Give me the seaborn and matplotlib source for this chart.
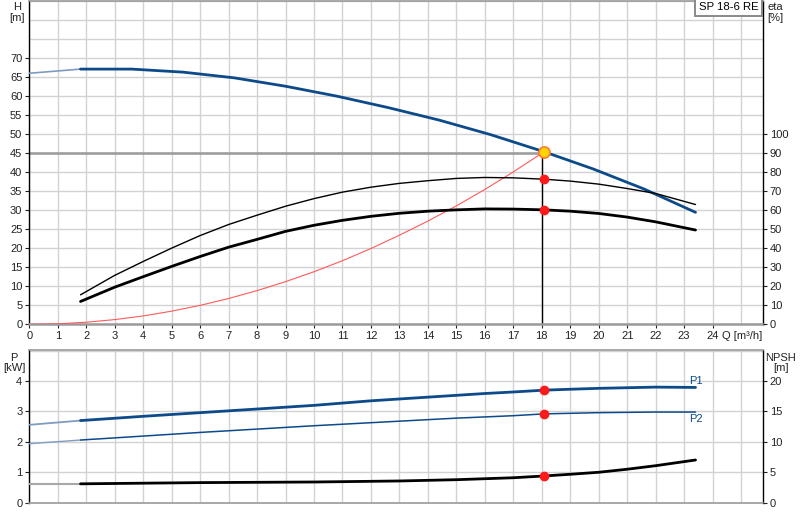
import matplotlib
matplotlib.use("Agg")
import matplotlib.pyplot as plt
import seaborn as sns
import numpy as np
from matplotlib.ticker import FixedLocator, NullFormatter

sns.set_theme(style="white")
plt.rcParams['font.family'] = ['Liberation Sans', 'DejaVu Sans']

# ---------------- data ----------------
# pump head curve H [m]
q_head = [1.8, 3.6, 5.4, 7.2, 9.0, 10.8, 12.6, 14.4, 16.2, 18.08, 19.8, 21.6, 23.4]
h_head = [67.0, 67.0, 66.2, 64.7, 62.5, 59.9, 56.9, 53.6, 49.8, 45.3, 40.8, 35.5, 29.4]
q_head_ext = [0.0, 1.8]
h_head_ext = [65.9, 67.0]

# system curve (red)
q_sys = [0, 1, 2, 3, 4, 5, 6, 7, 8, 9, 10, 11, 12, 13, 14, 15, 16, 17, 18.08]
h_sys = [0, 0.14, 0.55, 1.24, 2.2, 3.45, 4.97, 6.77, 8.85, 11.2, 13.8, 16.7,
         19.9, 23.4, 27.1, 31.1, 35.4, 40.0, 45.3]

# efficiency curves eta [%]
q_eta = [1.8, 3, 4, 5, 6, 7, 8, 9, 10, 11, 12, 13, 14, 15, 16, 17, 18.08,
         19, 20, 21, 22, 23.4]
eta_pump = [15.5, 25.7, 33.0, 40.0, 46.6, 52.4, 57.3, 62.0, 66.0, 69.4, 72.0,
            74.0, 75.4, 76.6, 77.1, 76.9, 76.2, 75.2, 73.6, 71.3, 68.7, 62.9]
eta_total = [12.0, 19.5, 25.0, 30.4, 35.6, 40.5, 44.6, 48.8, 52.0, 54.6, 56.7,
             58.3, 59.4, 60.1, 60.6, 60.5, 60.1, 59.4, 58.2, 56.3, 53.8, 49.5]

# power curves P [kW]
q_p1 = [1.8, 4, 6, 8, 10, 12, 13, 14, 15, 16, 17, 18.08, 19, 20, 21, 22, 23.4]
p1 = [2.70, 2.84, 2.96, 3.08, 3.20, 3.35, 3.41, 3.47, 3.53, 3.59, 3.64, 3.70,
      3.73, 3.76, 3.78, 3.80, 3.79]
q_p1_ext = [0.0, 1.8]
p1_ext = [2.56, 2.70]
q_p2 = [1.8, 4, 6, 8, 10, 12, 13, 15, 17, 18.08, 20, 22, 23.4]
p2 = [2.06, 2.19, 2.31, 2.42, 2.53, 2.63, 2.68, 2.78, 2.86, 2.92, 2.96, 2.98, 2.98]
q_p2_ext = [0.0, 1.8]
p2_ext = [1.94, 2.06]

# NPSH [m]
q_npsh = [1.8, 6, 10, 13, 15, 17, 18.08, 19, 20, 21, 22, 23.4]
npsh = [3.1, 3.3, 3.4, 3.57, 3.78, 4.1, 4.39, 4.67, 5.0, 5.5, 6.08, 7.02]
q_npsh_ext = [0.0, 1.8]
npsh_ext = [3.12, 3.12]

# duty point
q_req, h_req = 18.0, 45.0
q_duty, h_duty = 18.08, 45.3
eta_pump_duty, eta_total_duty = 76.2, 60.1
p1_duty, p2_duty, npsh_duty = 3.70, 2.92, 4.39

x_ticks = list(range(0, 25))
h_ticks = list(range(0, 75, 5))
eta_ticks = list(range(0, 110, 10))
p_ticks = [0, 1, 2, 3, 4]
npsh_ticks = [0, 5, 10, 15, 20]

# ---------------- figure ----------------
BLUE = "#0c4a8a"
GRID = "#d2d2d2"
TXT = "#222222"
FS = 8
fig = plt.figure(figsize=(8, 5.2), dpi=100)
ax = fig.add_axes([0.0366, 0.3763, 0.9168, 0.6227])
axb = fig.add_axes([0.0366, 0.0333, 0.9168, 0.2936])

def style(a, xmax=25.76):
    a.set_xlim(0, xmax)
    a.set_facecolor("white")
    for s in ["left", "right"]:
        a.spines[s].set_color("black")
        a.spines[s].set_linewidth(1.0)
    for s in ["top", "bottom"]:
        a.spines[s].set_color("#9a9a9a")
        a.spines[s].set_linewidth(1.2)
    a.set_axisbelow(True)

# ---- top panel ----
style(ax)
ax.set_ylim(0, 85)
ax.xaxis.set_major_locator(FixedLocator(x_ticks))
ax.xaxis.set_minor_locator(FixedLocator([25]))
ax.yaxis.set_major_locator(FixedLocator(h_ticks))
ax.yaxis.set_minor_locator(FixedLocator([75, 80, 85]))
ax.grid(True, which="both", color=GRID, lw=1.0)
ax.tick_params(axis="both", which="major", labelsize=FS, colors=TXT, length=3,
               width=0.8, pad=2, direction="out", left=True, bottom=True)
ax.tick_params(axis="both", which="minor", length=0)
ax.spines["bottom"].set_linewidth(1.8)

ax.plot([0, q_req], [h_req, h_req], color="#9a9a9a", lw=1.8, zorder=2)
ax.plot([q_req, q_req], [0, h_req], color="black", lw=1.0, zorder=2)

sns.lineplot(x=q_head_ext, y=h_head_ext, ax=ax, color="#7f9cc0", lw=1.2,
             estimator=None, sort=False, zorder=3)
sns.lineplot(x=q_head, y=h_head, ax=ax, color=BLUE, lw=2.0,
             estimator=None, sort=False, zorder=4)
sns.lineplot(x=q_sys, y=h_sys, ax=ax, color="#ff5a5a", lw=0.8,
             estimator=None, sort=False, zorder=3)

axe = ax.twinx()
axe.set_ylim(0, 170)
axe.yaxis.set_major_locator(FixedLocator(eta_ticks))
axe.tick_params(axis="y", labelsize=FS, colors=TXT, length=3, width=0.8,
                pad=2, direction="out", right=True)
axe.grid(False)
for s in axe.spines.values():
    s.set_visible(False)
sns.lineplot(x=q_eta, y=eta_pump, ax=axe, color="black", lw=1.0,
             estimator=None, sort=False, zorder=4)
sns.lineplot(x=q_eta, y=eta_total, ax=axe, color="black", lw=2.0,
             estimator=None, sort=False, zorder=4)
axe.plot([q_duty, q_duty], [eta_pump_duty, eta_total_duty], ls="none",
         marker="o", ms=6, color="#ff1a1a", zorder=6)
axe.plot([q_duty], [h_duty * 2], marker="o", ms=8, mfc="#ffd400",
         mec="#ff7a30", mew=1.2, ls="none", zorder=7)
axe.set_ylabel("")
ax.set_ylabel("")
ax.set_xlabel("")

ax.annotate("Q [m³/h]", xy=(24.33, 0), xycoords=("data", "axes fraction"),
            xytext=(0, -8.5), textcoords="offset points", ha="left",
            va="center", fontsize=FS, color=TXT)
ax.text(0.9945, 0.9955, "SP 18-6 RE", transform=ax.transAxes, ha="right",
        va="top", fontsize=8.2, color="black", zorder=10,
        bbox=dict(boxstyle="square,pad=0.32", fc="white", ec="#8a8a8a", lw=1.4))

fig.text(0.0213, 0.996, "H\n[m]", ha="center", va="top", fontsize=FS,
         color=TXT, linespacing=1.1)
fig.text(0.969, 0.996, "eta\n[%]", ha="center", va="top", fontsize=FS,
         color=TXT, linespacing=1.1)

# ---- bottom panel ----
style(axb)
axb.set_ylim(0, 5.02)
axb.xaxis.set_major_locator(FixedLocator(list(range(0, 26))))
axb.xaxis.set_major_formatter(NullFormatter())
axb.yaxis.set_major_locator(FixedLocator(p_ticks))
axb.yaxis.set_minor_locator(FixedLocator([5]))
axb.grid(True, which="both", color=GRID, lw=1.0)
axb.tick_params(axis="x", length=0)
axb.tick_params(axis="y", which="major", labelsize=FS, colors=TXT, length=3,
                width=0.8, pad=2, direction="out", left=True)
axb.tick_params(axis="y", which="minor", length=0)

sns.lineplot(x=q_p1_ext, y=p1_ext, ax=axb, color="#7f9cc0", lw=1.3,
             estimator=None, sort=False, zorder=3)
sns.lineplot(x=q_p1, y=p1, ax=axb, color=BLUE, lw=2.0,
             estimator=None, sort=False, zorder=4)
sns.lineplot(x=q_p2_ext, y=p2_ext, ax=axb, color="#7f9cc0", lw=1.0,
             estimator=None, sort=False, zorder=3)
sns.lineplot(x=q_p2, y=p2, ax=axb, color=BLUE, lw=1.1,
             estimator=None, sort=False, zorder=4)
axb.plot([q_duty, q_duty], [p1_duty, p2_duty], ls="none", marker="o", ms=6,
         color="#ff1a1a", zorder=6)
axb.text(23.4, 3.83, "P1", fontsize=FS, color=BLUE, ha="center", va="bottom")
axb.text(23.4, 2.93, "P2", fontsize=FS, color=BLUE, ha="center", va="top")
axb.set_ylabel("")

axn = axb.twinx()
axn.set_ylim(0, 25.1)
axn.yaxis.set_major_locator(FixedLocator(npsh_ticks))
axn.tick_params(axis="y", labelsize=FS, colors=TXT, length=3, width=0.8,
                pad=2, direction="out", right=True)
axn.grid(False)
for s in axn.spines.values():
    s.set_visible(False)
sns.lineplot(x=q_npsh_ext, y=npsh_ext, ax=axn, color="#a8a8a8", lw=1.5,
             estimator=None, sort=False, zorder=3)
sns.lineplot(x=q_npsh, y=npsh, ax=axn, color="black", lw=2.0,
             estimator=None, sort=False, zorder=4)
axn.plot([q_duty], [npsh_duty], ls="none", marker="o", ms=6,
         color="#ff1a1a", zorder=6)
axn.set_ylabel("")

fig.text(0.0175, 0.322, "P\n[kW]", ha="center", va="top", fontsize=FS,
         color=TXT, linespacing=1.1)
fig.text(0.976, 0.322, "NPSH\n[m]", ha="center", va="top", fontsize=FS,
         color=TXT, linespacing=1.1)

fig.savefig("out.png", dpi=100)
